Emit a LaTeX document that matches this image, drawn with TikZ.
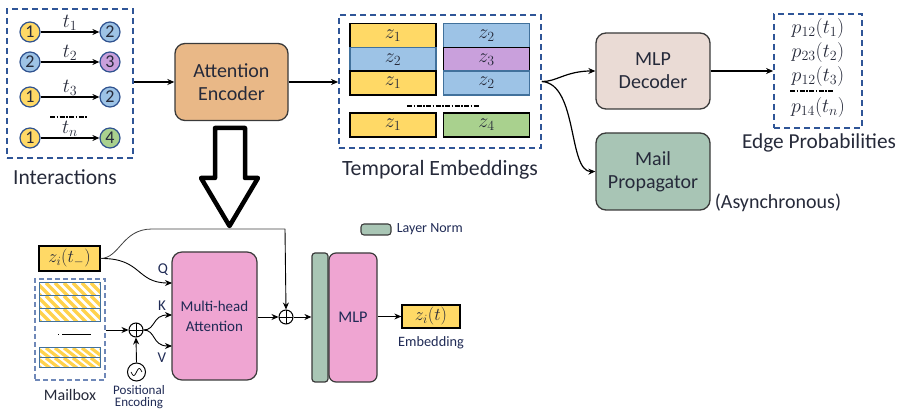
\RequirePackage{fix-cm}
\documentclass[tikz,border=0pt]{standalone}
\usepackage{fontspec}
\setmainfont{Carlito}
\usetikzlibrary{arrows.meta,calc}

\definecolor{ink}{HTML}{262A3A}
\definecolor{navy}{HTML}{1F2A55}
\definecolor{dashblue}{HTML}{2F5597}
\definecolor{mailblue}{HTML}{6F88B8}
\definecolor{edgegray}{HTML}{3A3A3A}
\definecolor{encfill}{HTML}{E9B887}
\definecolor{decfill}{HTML}{EADBD5}
\definecolor{propfill}{HTML}{A8C5B5}
\definecolor{pinkfill}{HTML}{EFA5D2}
\definecolor{lnfill}{HTML}{A9C6B5}
\definecolor{zyellow}{HTML}{FFD966}
\definecolor{zblue}{HTML}{9DC3E6}
\definecolor{zpurple}{HTML}{C9A0DC}
\definecolor{zgreen}{HTML}{A9D18E}
\definecolor{bluerim}{HTML}{41719C}
\definecolor{circrim}{HTML}{2F528F}
\definecolor{stripe}{HTML}{FFD24D}

% one row of a mailbox entry: yellow diagonal stripes inside a thin frame
\newcommand\mailrow[4]{%
  \begin{scope}
    \clip (#1,#2) rectangle (#3,#4);
    \foreach \s in {-20,-11,...,80}
      \draw[line width=3.2pt, stripe] ({#1+\s},#2) -- ({#1+\s+13},#4);
  \end{scope}
  \draw[bluerim, line width=1pt] (#1,#2) rectangle (#3,#4);
}

\begin{document}
\begin{tikzpicture}[x=1pt,y=-1pt,
  >={Stealth[length=7pt,width=6pt]},
  conn/.style={->, line width=1.2pt, black},
  thinconn/.style={->, line width=0.9pt, black},
  dashbox/.style={draw=dashblue, line width=1.8pt, dash pattern=on 6pt off 4pt},
  block/.style={draw=edgegray, line width=1.3pt, rounded corners=10pt, align=center,
    text=ink, font=\fontsize{20}{23}\selectfont, inner sep=0pt},
  lab/.style={text=ink, font=\fontsize{21.5}{24}\selectfont, inner sep=0pt},
  small/.style={text=navy, font=\fontsize{15}{17}\selectfont, inner sep=0pt, align=center},
  vert/.style={circle, draw=circrim, line width=1.2pt, minimum size=20pt, inner sep=0pt,
    text=ink, font=\fontsize{18}{18}\selectfont},
  emb/.style={minimum width=86pt, minimum height=24pt, inner sep=0pt,
    font=\fontsize{20}{20}\selectfont, text=ink},
  ybar/.style={emb, fill=zyellow, draw=black, line width=1.6pt},
  bbar/.style={emb, fill=zblue, draw=bluerim, line width=1.2pt},
  pbar/.style={emb, fill=zpurple, draw=black, line width=1.6pt},
  gbar/.style={emb, fill=zgreen, draw=black, line width=1.6pt},
  sep/.style={line width=1.3pt, dash pattern=on 5pt off 1.5pt on 1.5pt off 1.5pt},
  plus/.style={circle, draw=black, line width=1pt, minimum size=14pt, inner sep=0pt,
    path picture={\draw[line width=0.9pt] (path picture bounding box.north) -- (path picture bounding box.south)
      (path picture bounding box.west) -- (path picture bounding box.east);}},
  mathlab/.style={inner sep=0pt, text=ink, font=\fontsize{20}{20}\selectfont},
]
\useasboundingbox (0,0) rectangle (900,411);

% ---------------- interactions ----------------
\node[dashbox, minimum width=126pt, minimum height=149pt, inner sep=0pt] (inter) at (70,83.5) {};
\foreach \y/\la/\ca/\lb/\cb/\t [count=\i] in
  {32/1/zyellow/2/zblue/t_1, 62/2/zblue/3/zpurple/t_2, 97/1/zyellow/2/zblue/t_3, 138/1/zyellow/4/zgreen/t_n}{
  \node[vert, fill=\ca] (u\i) at (30,\y) {\la};
  \node[vert, fill=\cb] (v\i) at (110,\y) {\lb};
  \draw[conn] (u\i) -- (v\i);
  \node[mathlab, anchor=south] at (70,{\y-1}) {$\t$};
}
\draw[sep] (50,117) -- (88,117);
\node[lab] at (65,177) {Interactions};

% ---------------- encoder ----------------
\node[block, fill=encfill, minimum width=113pt, minimum height=77pt] (enc) at (231.5,82) {Attention\\Encoder};
\draw[conn] (inter.east |- enc.west) -- (enc.west);

% ---------------- temporal embeddings ----------------
\node[dashbox, minimum width=202pt, minimum height=133pt, inner sep=0pt] (temb) at (440,81.5) {};
\draw[conn] (enc.east) -- (temb.west |- enc.east);
\node[ybar] (e11) at (393,35.5) {$z_1$};
\node[bbar] (e12) at (486.5,35.5) {$z_2$};
\node[bbar] (e21) at (393,59.5) {$z_2$};
\node[pbar] (e22) at (486.5,59.5) {$z_3$};
\node[ybar] (e31) at (393,83) {$z_1$};
\node[bbar] (e32) at (486.5,83) {$z_2$};
\node[ybar] (e41) at (393,125) {$z_1$};
\node[gbar] (e42) at (486.5,125) {$z_4$};
\draw[sep] (407,106) -- (480,106);
\node[lab, font=\fontsize{21.8}{24}\selectfont] at (440,170) {Temporal Embeddings};

% ---------------- decoder / propagator ----------------
\node[block, fill=decfill, minimum width=114pt, minimum height=76pt] (dec) at (653,71) {MLP\\Decoder};
\node[block, fill=propfill, minimum width=114pt, minimum height=77pt] (prop) at (653,171.5) {Mail\\Propagator};
\draw[conn] (temb.east) .. controls (556,82) and (566,71) .. (dec.west);
\draw[conn] (temb.east) .. controls (578,84) and (568,172) .. (prop.west);
\node[lab, font=\fontsize{20}{22}\selectfont] at (778,203) {(Asynchronous)};

% ---------------- edge probabilities ----------------
\node[dashbox, minimum width=88pt, minimum height=114pt, inner sep=0pt] (edge) at (818,71) {};
\draw[conn] (dec.east) -- (edge.west |- dec.east);
\node[mathlab] at (818,29) {$p_{12}(t_1)$};
\node[mathlab] at (818,53) {$p_{23}(t_2)$};
\node[mathlab] at (818,77) {$p_{12}(t_3)$};
\draw[sep] (790,91) -- (834,91);
\node[mathlab] at (818,108) {$p_{14}(t_n)$};
\node[lab, font=\fontsize{21.3}{24}\selectfont] at (819,143) {Edge Probabilities};

% ---------------- hollow arrow into the detailed view ----------------
\draw[line width=4.5pt, line join=round, fill=white]
  (215,128) -- (245,128) -- (245,178) -- (258,178) -- (229.5,226) -- (201,178) -- (215,178) -- cycle;

% ---------------- detailed attention encoder ----------------
\node[draw=black, line width=1.3pt, fill=zyellow, minimum width=61pt, minimum height=25pt,
  inner sep=0pt, font=\fontsize{18}{18}\selectfont, text=ink] (zprev) at (69.5,258.5) {$z_i(t_-)$};

\node[draw=mailblue, line width=1.1pt, dash pattern=on 5pt off 3pt,
  minimum width=70pt, minimum height=101pt, inner sep=0pt] (mbox) at (70,329.5) {};
\mailrow{39}{283}{100}{296}
\mailrow{39}{296}{100}{309}
\mailrow{39}{309}{100}{322}
\mailrow{39}{348}{100}{358}
\mailrow{39}{358}{100}{368}
\draw[line width=1pt] (58,335) -- (59,335);
\draw[line width=1pt] (62,335) -- (91,335);
\node[small, text=ink, font=\fontsize{16}{18}\selectfont] at (70,395) {Mailbox};

\node[plus] (op1) at (136,330) {};
\node[circle, draw=black, line width=1pt, minimum size=18pt, inner sep=0pt] (pe) at (136.5,372) {};
\draw[line width=0.7pt] plot[smooth, domain=-5.5:5.5, samples=23] ({136.5+\x},{372-3.5*sin(33*\x)});
\node[text=navy, font=\fontsize{13}{12}\selectfont, align=center, inner sep=0pt] at (139,397) {Positional\\Encoding};
\draw[thinconn] (mbox.east |- op1) -- (op1.west);
\draw[thinconn] (pe.north) -- (op1.south);

\node[draw=edgegray, line width=1.2pt, fill=pinkfill, rounded corners=10pt, minimum width=85pt,
  minimum height=128pt, inner sep=0pt, align=center, text=navy, font=\fontsize{15}{20}\selectfont]
  (mha) at (214.5,316) {Multi-head\\Attention};
\coordinate (qin) at (172,283);
\coordinate (kin) at (172,315);
\coordinate (vin) at (172,346);
\node[small] at (163,270) {Q};
\node[small] at (162,306) {K};
\node[small] at (162,358) {V};
\draw[thinconn] (zprev.east) .. controls (142,258) and (136,283) .. (qin);
\draw[thinconn] (op1.east) .. controls (156,330) and (152,315) .. (kin);
\draw[thinconn] (op1.east) .. controls (156,330) and (152,346) .. (vin);

\node[plus] (op2) at (286,317) {};
\coordinate (bend) at (285,229);
\draw[line width=0.8pt, black!75] (zprev.east) .. controls (120,258) and (122,229) .. (152,229) -- (bend);
\draw[thinconn] (bend) -- (op2.north);
\draw[thinconn] (mha.east |- op2) -- (op2.west);

\node[draw=edgegray, line width=1.2pt, fill=lnfill, rounded corners=3pt, minimum width=16pt,
  minimum height=129pt, inner sep=0pt] (ln) at (320,317.5) {};
\node[draw=edgegray, line width=1.2pt, fill=pinkfill, rounded corners=7pt, minimum width=48pt,
  minimum height=129pt, inner sep=0pt, text=navy, font=\fontsize{16.3}{18}\selectfont] (mlp) at (353,317.5) {MLP};
\draw[thinconn] (op2.east) -- (ln.west |- op2);

\node[draw=black, line width=1.3pt, fill=zyellow, minimum width=58pt, minimum height=23pt,
  inner sep=0pt, font=\fontsize{18}{18}\selectfont, text=ink] (zt) at (431,316.5) {$z_i(t)$};
\draw[thinconn] (mlp.east |- zt) -- (zt.west);
\node[text=navy, font=\fontsize{14.3}{16}\selectfont, inner sep=0pt] at (431,343) {Embedding};

% legend
\node[draw=edgegray, line width=1.1pt, fill=lnfill, rounded corners=3pt, minimum width=30pt,
  minimum height=11pt, inner sep=0pt] (lnkey) at (376,229.5) {};
\node[anchor=west, text=navy, font=\fontsize{14}{16}\selectfont, inner sep=0pt] at ([xshift=5pt]lnkey.east) {Layer Norm};
\end{tikzpicture}
\end{document}
